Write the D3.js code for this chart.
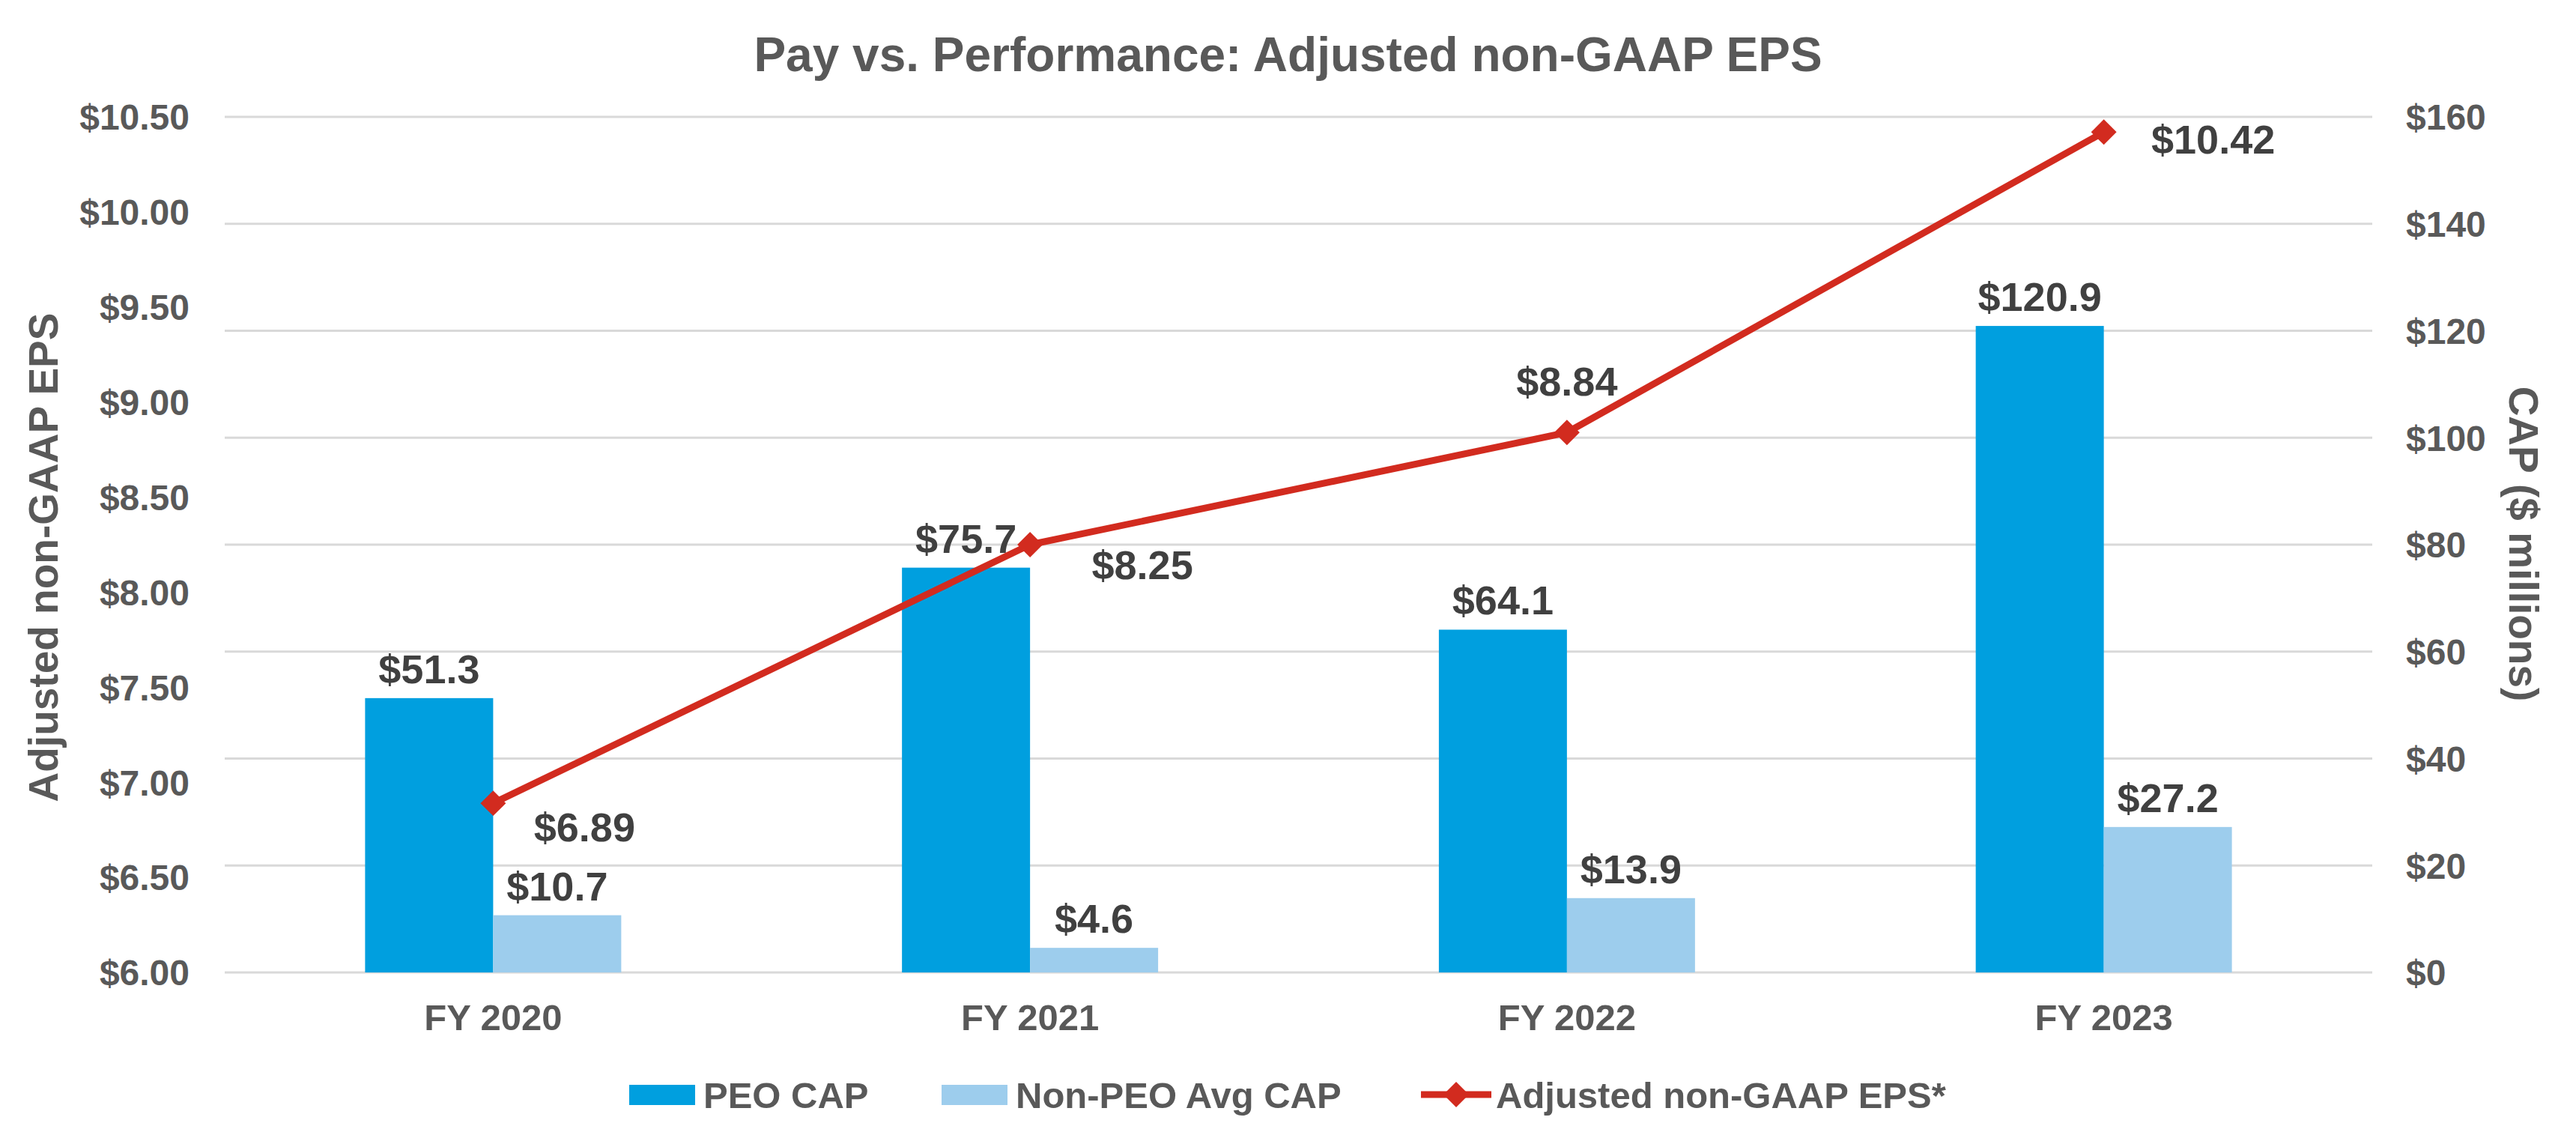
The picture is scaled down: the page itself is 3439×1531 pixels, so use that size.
<!DOCTYPE html>
<html>
<head>
<meta charset="utf-8">
<script src="https://cdn.jsdelivr.net/npm/d3@7"></script>
<style>
  html, body { margin: 0; padding: 0; background: #ffffff; }
  svg text { font-family: "Liberation Sans", Arial, sans-serif; font-weight: bold; }
</style>
</head>
<body>
<svg id="chart" width="3439" height="1531"></svg>
<script>
// ---- Data ----
const categories = ["FY 2020", "FY 2021", "FY 2022", "FY 2023"];
const seriesNames = ["PEO CAP", "Non-PEO Avg CAP"];
const peoCap = [51.3, 75.7, 64.1, 120.9];
const nonPeoCap = [10.7, 4.6, 13.9, 27.2];
const eps = [6.89, 8.25, 8.84, 10.42];
const lineName = "Adjusted non-GAAP EPS*";
const epsTicks = [6.0, 6.5, 7.0, 7.5, 8.0, 8.5, 9.0, 9.5, 10.0, 10.5];
const capTicks = [0, 20, 40, 60, 80, 100, 120, 140, 160];
const titleText = "Pay vs. Performance: Adjusted non-GAAP EPS";
const leftAxisTitle = "Adjusted non-GAAP EPS";
const rightAxisTitle = "CAP ($ millions)";

// ---- Layout ----
const W = 3439, H = 1531;
const plot = { left: 300, right: 3167, top: 156, bottom: 1298 };
const colors = { peo: "#009FDF", nonPeo: "#9DCDED", line: "#D22B1F", grid: "#D9D9D9", axisText: "#595959", label: "#404040" };

const svg = d3.select("#chart");

const x0 = d3.scaleBand().domain(categories).range([plot.left, plot.right]).paddingInner(0).paddingOuter(0);
const x1 = d3.scaleBand().domain(seriesNames).range([0, x0.bandwidth()]).paddingInner(0).paddingOuter(1.096);
const yL = d3.scaleLinear().domain([6, 10.5]).range([plot.bottom, plot.top]);
const yR = d3.scaleLinear().domain([0, 160]).range([plot.bottom, plot.top]);

// Gridlines
svg.append("g").selectAll("line").data(capTicks).join("line")
  .attr("x1", plot.left).attr("x2", plot.right)
  .attr("y1", d => yR(d)).attr("y2", d => yR(d))
  .attr("stroke", colors.grid).attr("stroke-width", 3);

// Left axis
const leftAxis = d3.axisLeft(yL).tickValues(epsTicks).tickSize(0).tickPadding(0)
  .tickFormat(d => "$" + d.toFixed(2));
const gL = svg.append("g").attr("transform", `translate(253,0)`).call(leftAxis);
gL.select(".domain").remove();
gL.selectAll("text").attr("fill", colors.axisText).style("font-size", "48px").attr("dy", "0.35em").attr("x", 0);

// Right axis
const rightAxis = d3.axisRight(yR).tickValues(capTicks).tickSize(0).tickPadding(0)
  .tickFormat(d => "$" + d);
const gR = svg.append("g").attr("transform", `translate(3212,0)`).call(rightAxis);
gR.select(".domain").remove();
gR.selectAll("text").attr("fill", colors.axisText).style("font-size", "48px").attr("dy", "0.35em").attr("x", 0);

// Bottom category axis
const bottomAxis = d3.axisBottom(x0).tickSize(0).tickPadding(0);
const gB = svg.append("g").attr("transform", `translate(0,${plot.bottom})`).call(bottomAxis);
gB.select(".domain").remove();
gB.selectAll("text").attr("fill", colors.axisText).style("font-size", "49px").attr("dy", null).attr("y", 77);

// Bars
const barData = [];
categories.forEach((c, i) => {
  barData.push({ cat: c, series: seriesNames[0], value: peoCap[i], color: colors.peo });
  barData.push({ cat: c, series: seriesNames[1], value: nonPeoCap[i], color: colors.nonPeo });
});
svg.append("g").selectAll("rect").data(barData).join("rect")
  .attr("x", d => x0(d.cat) + x1(d.series))
  .attr("width", x1.bandwidth())
  .attr("y", d => yR(d.value))
  .attr("height", d => yR(0) - yR(d.value))
  .attr("fill", d => d.color);

// Bar labels
svg.append("g").selectAll("text").data(barData).join("text")
  .attr("x", d => x0(d.cat) + x1(d.series) + x1.bandwidth() / 2)
  .attr("y", d => yR(d.value) - 20)
  .attr("text-anchor", "middle")
  .attr("fill", colors.label)
  .style("font-size", "54px")
  .text(d => "$" + d.value.toFixed(1));

// Line
const lineData = categories.map((c, i) => ({ cat: c, value: eps[i] }));
const cx = d => x0(d.cat) + x0.bandwidth() / 2;
const line = d3.line().x(cx).y(d => yL(d.value));
svg.append("path").datum(lineData)
  .attr("d", line).attr("fill", "none")
  .attr("stroke", colors.line).attr("stroke-width", 9).attr("stroke-linejoin", "round");

// Diamond markers
const diamond = d3.symbol().type(d3.symbolSquare).size(24 * 24);
svg.append("g").selectAll("path").data(lineData).join("path")
  .attr("d", diamond)
  .attr("transform", d => `translate(${cx(d)},${yL(d.value)}) rotate(45)`)
  .attr("fill", colors.line);

// EPS labels (manually placed, as in the reference)
const epsLabelOffset = [[122, 51], [150, 46], [0, -49], [146, 29]];
svg.append("g").selectAll("text").data(lineData).join("text")
  .attr("x", (d, i) => cx(d) + epsLabelOffset[i][0])
  .attr("y", (d, i) => yL(d.value) + epsLabelOffset[i][1])
  .attr("text-anchor", "middle")
  .attr("fill", colors.label)
  .style("font-size", "54px")
  .text(d => "$" + d.value.toFixed(2));

// Title
svg.append("text").attr("x", W / 2).attr("y", 95)
  .attr("text-anchor", "middle").attr("fill", colors.axisText)
  .style("font-size", "64px").text(titleText);

// Axis titles
svg.append("text").attr("transform", "translate(77,744) rotate(-90)")
  .attr("text-anchor", "middle").attr("fill", colors.axisText)
  .style("font-size", "55px").text(leftAxisTitle);
svg.append("text").attr("transform", "translate(3350,726) rotate(90)")
  .attr("text-anchor", "middle").attr("fill", colors.axisText)
  .style("font-size", "55px").text(rightAxisTitle);

// Legend
const legY = 1461;
const legend = svg.append("g");
const legendItems = [
  { name: seriesNames[0], type: "rect", color: colors.peo, x: 840 },
  { name: seriesNames[1], type: "rect", color: colors.nonPeo, x: 1257 },
  { name: lineName, type: "line", color: colors.line, x: 1897 }
];
legendItems.forEach(it => {
  if (it.type === "rect") {
    legend.append("rect").attr("x", it.x).attr("y", legY - 13).attr("width", 88).attr("height", 27).attr("fill", it.color);
  } else {
    legend.append("line").attr("x1", it.x).attr("x2", it.x + 94).attr("y1", legY).attr("y2", legY)
      .attr("stroke", it.color).attr("stroke-width", 9);
    legend.append("path").attr("d", diamond).attr("transform", `translate(${it.x + 47},${legY}) rotate(45)`).attr("fill", it.color);
  }
  legend.append("text").attr("x", it.x + (it.type === "rect" ? 99 : 100)).attr("y", legY + 18)
    .attr("fill", colors.axisText).style("font-size", "49px").text(it.name);
});
</script>
</body>
</html>
